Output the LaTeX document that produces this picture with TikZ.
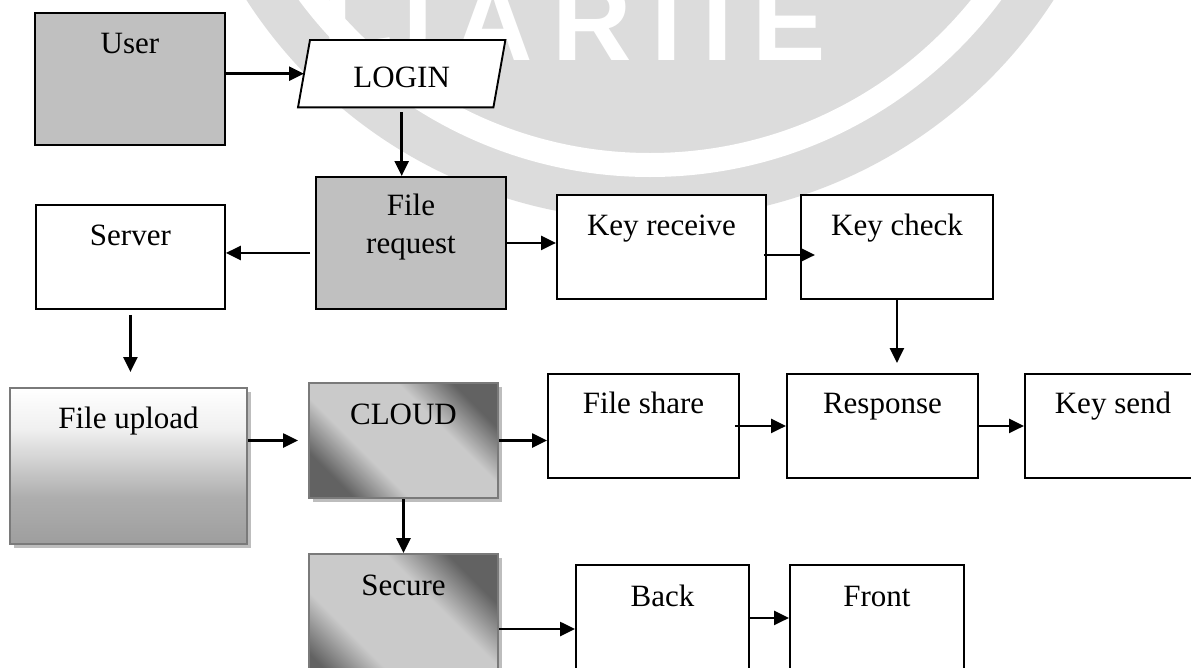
\documentclass[tikz,border=0pt]{standalone}
\usepackage{fontspec}
\setmainfont{Liberation Serif}
\newfontfamily\wmfont[LetterSpace=18]{Liberation Sans}
\usetikzlibrary{arrows.meta,shadows,calc}
\pgfdeclarelayer{bg}
\pgfsetlayers{bg,main}
\definecolor{boxgray}{HTML}{C0C0C0}
\definecolor{wmgray}{HTML}{DCDCDC}
\definecolor{cdark}{HTML}{626262}
\definecolor{clight}{HTML}{CACACA}
\definecolor{gborder}{HTML}{7A7A7A}
\definecolor{shc}{HTML}{BDBDBD}
\definecolor{fua}{HTML}{9E9E9E}
\definecolor{fub}{HTML}{AEAEAE}
\definecolor{fuc}{HTML}{C6C6C6}
\definecolor{fud}{HTML}{F0F0F0}
\pgfdeclarehorizontalshading{reflsh}{100bp}{color(0bp)=(cdark); color(25bp)=(cdark); color(38bp)=(clight); color(62bp)=(clight); color(75bp)=(cdark); color(100bp)=(cdark)}
\pgfdeclareverticalshading{fush}{100bp}{color(0bp)=(fua); color(25bp)=(fua); color(40bp)=(fub); color(48bp)=(fuc); color(62bp)=(fud); color(75bp)=(white); color(100bp)=(white)}
\begin{document}
\begin{tikzpicture}[x=1pt,y=-1pt,
  every node/.style={font=\fontsize{31}{38}\selectfont},
  bx/.style={draw, line width=1.9pt, fill=white, anchor=north west, inner sep=0pt, text height=41pt},
  gbox/.style={draw=gborder, line width=2pt, anchor=north west, inner sep=0pt, text height=41pt,
    drop shadow={shadow xshift=4pt,shadow yshift=-4pt,fill=shc,opacity=1}},
  arr/.style={line width=2.6pt, -{Triangle[length=15pt,width=14pt]}}]
\useasboundingbox (0,0) rectangle (1191,667);
\begin{pgfonlayer}{bg}
  \fill[white] (0,0) rectangle (1191,667);
  \begin{scope}
    \clip (0,0) rectangle (1191,667);
    \fill[wmgray] (650,-260) circle[radius=480];
    \draw[white, line width=24pt] (650,-260) circle[radius=425];
    \node[anchor=base west, inner sep=0pt, text=white, font=\wmfont\bfseries\fontsize{110}{110}\selectfont] (wm) at (322,60) {IJARIIE};
  \end{scope}
\end{pgfonlayer}

\node[bx, fill=boxgray, minimum width=190pt, text depth=91pt] (user) at (34,12) {User};
\node[anchor=north west, inner sep=0pt, minimum width=195pt, text height=47pt, text depth=20pt] (login) at (304,40) {LOGIN};
\begin{pgfonlayer}{bg}
  \draw[line width=1.9pt, fill=white] ([xshift=6pt]login.north west) -- ([xshift=6pt]login.north east) -- ([xshift=-6pt]login.south east) -- ([xshift=-6pt]login.south west) -- cycle;
\end{pgfonlayer}
\node[bx, fill=boxgray, minimum width=190pt, text height=39pt, text depth=93pt] (fr) at (315,176) {\begin{tabular}[t]{@{}c@{}}File\\request\end{tabular}};
\node[bx, minimum width=189pt, text depth=63pt] (server) at (35,204) {Server};
\node[bx, minimum width=209pt, text depth=63pt] (kr) at (556,194) {Key receive};
\node[bx, minimum width=192pt, text depth=63pt] (kc) at (800,194) {Key check};
\node[gbox, shading=fush, minimum width=237pt, text height=40pt, text depth=116pt] (fu) at (9,387) {File upload};
\node[gbox, shading=reflsh, shading angle=45, minimum width=189pt, text depth=74pt] (cloud) at (308,382) {CLOUD};
\node[bx, minimum width=191pt, text height=40pt, text depth=64pt] (fs) at (547,373) {File share};
\node[bx, minimum width=191pt, text height=40pt, text depth=64pt] (resp) at (786,373) {Response};
\node[bx, minimum width=176pt, text height=40pt, text depth=64pt] (ks) at (1024,373) {Key send};
\node[gbox, shading=reflsh, shading angle=45, minimum width=189pt, text depth=109pt] (sec) at (308,553) {Secure};
\node[bx, minimum width=173pt, text height=42pt, text depth=108pt] (back) at (575,564) {Back};
\node[bx, minimum width=174pt, text height=42pt, text depth=108pt] (front) at (789,564) {Front};

\draw[arr] (user.east |- login.west) -- (login.west);
\draw[arr, shorten <=5pt] (login.south) -- (login.south |- fr.north);
\draw[arr, shorten <=5pt] ([yshift=-10pt]fr.west) -- ([yshift=-10pt]fr.west -| server.east);
\draw[arr] (fr.east) -- (fr.east -| kr.west);
\draw[arr, shorten <=-3pt, shorten >=-15pt] ([yshift=-8pt]kr.east) -- ([yshift=-8pt]kr.east -| kc.west);
\draw[arr, shorten >=10pt] (kc.south) -- (kc.south |- resp.north);
\draw[arr, shorten <=5pt, shorten >=15pt] (server.south) -- (server.south |- fu.north);
\draw[arr, shorten >=10pt] (cloud.west -| fu.east) -- (cloud.west);
\draw[arr] (cloud.east) -- (cloud.east -| fs.west);
\draw[arr, shorten <=-5pt] (fs.east) -- (fs.east -| resp.west);
\draw[arr] (resp.east) -- (resp.east -| ks.west);
\draw[arr] (cloud.south) -- (cloud.south |- sec.north);
\draw[arr] (sec.east) -- (sec.east -| back.west);
\draw[arr] ([yshift=22pt]back.east) -- ([yshift=22pt]back.east -| front.west);
\end{tikzpicture}
\end{document}
